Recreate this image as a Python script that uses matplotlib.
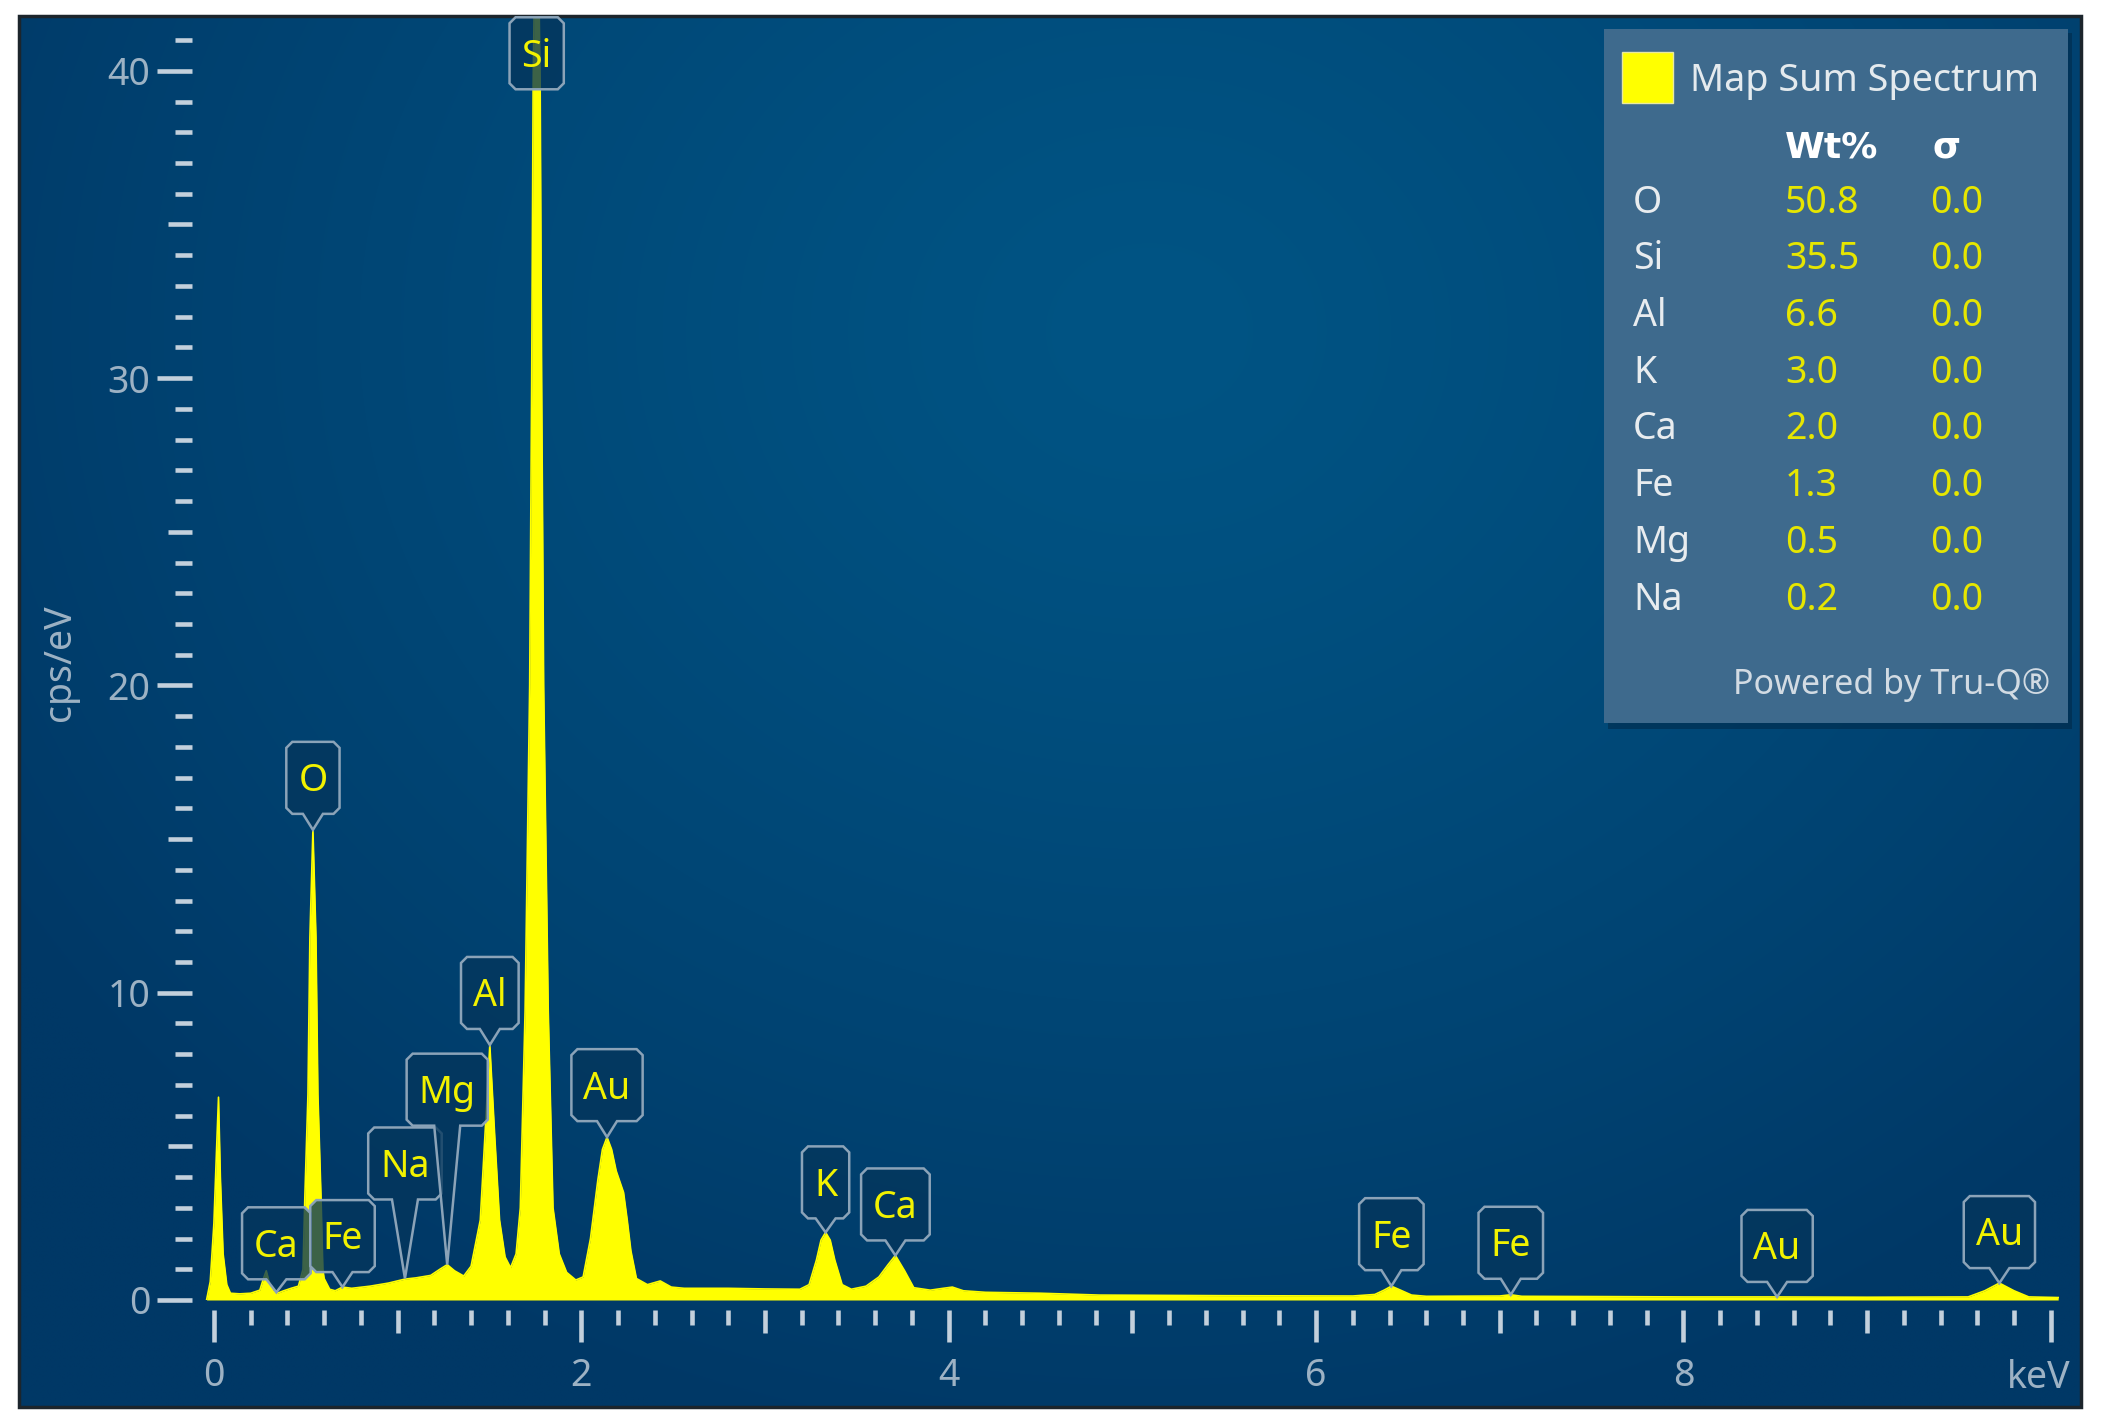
import numpy as np
import matplotlib
matplotlib.use('Agg')
import matplotlib.pyplot as plt
from matplotlib.patches import Polygon, Rectangle
from matplotlib.ticker import FixedLocator

W, H = 2101, 1427

# EDS spectrum (keV, cps/eV)
energy_kev = [-0.04, -0.02, 0.00, 0.015, 0.025, 0.035, 0.05, 0.07, 0.09,
              0.14, 0.20, 0.25, 0.27, 0.285, 0.30, 0.32, 0.345, 0.38, 0.42, 0.46,
              0.485, 0.4955, 0.512, 0.5225, 0.539, 0.5555, 0.566, 0.5825, 0.593, 0.60,
              0.63, 0.66, 0.70, 0.75, 0.85, 0.95, 1.04, 1.10, 1.18, 1.23, 1.27, 1.31, 1.36,
              1.40, 1.45, 1.475, 1.502, 1.529, 1.555, 1.585, 1.615,
              1.645, 1.668, 1.694, 1.719, 1.73, 1.738, 1.748, 1.766, 1.776, 1.784, 1.795,
              1.82, 1.846, 1.88, 1.92, 1.97,
              2.01, 2.05, 2.09, 2.115, 2.14, 2.165, 2.19, 2.23, 2.25, 2.27, 2.30, 2.36,
              2.43, 2.49, 2.56,
              2.8, 3.0, 3.19, 3.24, 3.28, 3.305, 3.33, 3.355, 3.38, 3.42, 3.47, 3.55,
              3.62, 3.67, 3.71, 3.76, 3.81, 3.9, 3.97, 4.02, 4.08, 4.2, 4.5, 4.82, 5.5, 6.2,
              6.32, 6.37, 6.41, 6.46, 6.52, 6.6, 7.0, 7.06, 7.12, 7.6, 8.0, 8.5, 9.0,
              9.55, 9.64, 9.72, 9.8, 9.88, 10.04]
counts_cps = [0.0, 0.6, 2.5, 5.0, 6.6, 4.0, 1.5, 0.5, 0.22,
              0.2, 0.22, 0.32, 0.7, 0.95, 0.6, 0.3, 0.22, 0.3, 0.38, 0.45,
              1.0, 3.45, 6.7, 11.8, 15.3, 11.8, 6.7, 3.45, 1.0, 0.7,
              0.35, 0.3, 0.42, 0.38, 0.45, 0.55, 0.68, 0.72, 0.8, 1.0, 1.15, 0.95, 0.78,
              1.1, 2.6, 5.3, 8.3, 5.3, 2.6, 1.4, 1.05,
              1.5, 3.0, 9.4, 20.0, 30.0, 39.6, 44.0, 44.0, 39.6, 30.0, 20.0,
              9.4, 3.0, 1.5, 0.9, 0.65,
              0.75, 2.0, 3.9, 4.9, 5.3, 4.9, 4.2, 3.5, 2.6, 1.6, 0.7, 0.5,
              0.62, 0.42, 0.38,
              0.38, 0.36, 0.35, 0.5, 1.3, 1.95, 2.2, 1.95, 1.3, 0.5, 0.35, 0.45,
              0.75, 1.15, 1.45, 0.95, 0.4, 0.32, 0.38, 0.42, 0.3, 0.25, 0.22, 0.16, 0.14, 0.13,
              0.18, 0.32, 0.45, 0.32, 0.16, 0.12, 0.13, 0.17, 0.12, 0.11, 0.1, 0.1, 0.09,
              0.1, 0.3, 0.55, 0.3, 0.1, 0.08]

# peak labels: element, energy, height the callout points at
peak_names = ['Ca', 'Fe', 'O', 'Na', 'Mg', 'Al', 'Si', 'Au', 'K', 'Ca', 'Fe', 'Fe', 'Au', 'Au']
peak_kev = [0.34, 0.70, 0.539, 1.04, 1.27, 1.502, 1.757, 2.14, 3.33, 3.71, 6.41, 7.06, 8.51, 9.72]
peak_cps = [0.25, 0.42, 15.3, 0.7, 1.15, 8.3, 39.4, 5.3, 2.2, 1.45, 0.45, 0.17, 0.1, 0.55]

# quantification table
quant_elements = ['O', 'Si', 'Al', 'K', 'Ca', 'Fe', 'Mg', 'Na']
quant_wt = ['50.8', '35.5', '6.6', '3.0', '2.0', '1.3', '0.5', '0.2']
quant_sigma = ['0.0', '0.0', '0.0', '0.0', '0.0', '0.0', '0.0', '0.0']

x_ticks = [0, 2, 4, 6, 8, 10]
x_tick_labels = ['0', '2', '4', '6', '8', '']
y_ticks = [0, 10, 20, 30, 40]

# callout pointer lengths in pixels (layout only)
lift_px = [13, 15, 16, 79, 139, 16, 0, 16, 14, 15, 16, 16, 15, 15]

plt.rcParams['font.family'] = ['Noto Sans', 'DejaVu Sans']

fig = plt.figure(figsize=(W / 100, H / 100), dpi=100)
fig.patch.set_facecolor('white')


def fx(x):
    return x / W


def fy(y):
    return 1 - y / H


# blue gradient background inside the dark frame
bg = fig.add_axes([0, 0, 1, 1], zorder=0)
bg.set_axis_off()
gx, gy = np.meshgrid(np.linspace(19, 2081, 400), np.linspace(16, 1407, 280))
r = np.hypot(gx - 1150, (gy - 330) / 0.85) / 1350
t = np.clip(r, 0, 1)[..., None] ** 1.3
c0 = np.array([0, 84, 132]) / 255
c1 = np.array([0, 56, 102]) / 255
bg.imshow(c0 * (1 - t) + c1 * t, extent=(19, 2081, 1407, 16), aspect='auto',
          interpolation='bilinear')
bg.set_xlim(0, W)
bg.set_ylim(H, 0)
bg.add_patch(Rectangle((19, 16), 2062, 1391, fill=False, ec='#1c252c', lw=2.5))

# spectrum axes
pos = [195 / W, 1 - 1300 / H, (2060 - 195) / W, (1300 - 18) / H]
ax = fig.add_axes(pos, zorder=1)
ax.set_facecolor('none')
ax.set_xlim(-0.103, 10.05)
ax.set_ylim(0, 41.72)
ax.fill_between(energy_kev, counts_cps, 0, color='#ffff00', lw=0)
ax.plot(energy_kev, counts_cps, color='#ffff00', lw=1.2)

tick_c = '#c3d0dc'
lab_c = '#9db2c4'
for s in ax.spines.values():
    s.set_visible(False)
ax.spines['bottom'].set_position(('outward', 7.2))
ax.spines['left'].set_position(('outward', 2.2))
ax.set_xticks(x_ticks)
ax.set_xticklabels(x_tick_labels)
ax.set_yticks(y_ticks)
ax.xaxis.set_minor_locator(FixedLocator([v for v in np.arange(0.2, 10.0, 0.2)
                                         if abs(v - round(v)) > 0.01]))
ax.yaxis.set_minor_locator(FixedLocator([v for v in range(1, 42) if v % 5 != 0]))
tw = 3.3
ax.tick_params(axis='x', which='major', length=23, width=tw, color=tick_c,
               labelsize=27, labelcolor=lab_c, pad=11)
ax.tick_params(axis='x', which='minor', length=10.8, width=tw, color=tick_c)
ax.tick_params(axis='y', which='major', length=25, width=tw, color=tick_c,
               labelsize=27, labelcolor=lab_c, pad=5)
ax.tick_params(axis='y', which='minor', length=12.2, width=tw, color=tick_c)

# medium ticks (odd keV, every 5 cps/eV)
axm = fig.add_axes(pos, zorder=1, frameon=False)
axm.set_xlim(ax.get_xlim())
axm.set_ylim(ax.get_ylim())
axm.spines['bottom'].set_position(('outward', 7.2))
axm.spines['left'].set_position(('outward', 2.2))
axm.set_xticks([1, 3, 5, 7, 9])
axm.set_yticks([5, 15, 25, 35])
axm.tick_params(axis='x', length=16.5, width=tw, color=tick_c, labelbottom=False)
axm.tick_params(axis='y', length=17.3, width=tw, color=tick_c, labelleft=False)

fig.text(fx(2070), fy(1388), 'keV', ha='right', va='baseline', fontsize=27, color=lab_c)
fig.text(fx(60), fy(663), 'cps/eV', rotation=90, ha='center', va='center',
         fontsize=27, color=lab_c)

# peak callouts
rend = fig.canvas.get_renderer()
lab_size = 27
cap = lab_size * 100 / 72 * 0.714
for name, e, c, lift in zip(peak_names, peak_kev, peak_cps, lift_px):
    tx, ty = ax.transData.transform((e, c))
    tip = H - ty
    bot = tip - lift
    top = bot - 72
    txt = fig.text(fx(tx), fy((top + bot) / 2 + cap / 2), name, ha='center', va='baseline',
                   fontsize=lab_size, color='#f2f200', zorder=7)
    w = txt.get_window_extent(rend).width + 24
    L, R = tx - w / 2, tx + w / 2
    rr = 6
    hw = 10 if lift < 30 else 13
    pts = [(tx - hw, bot), (L + rr, bot), (L, bot - rr), (L, top + rr), (L + rr, top),
           (R - rr, top), (R, top + rr), (R, bot - rr), (R - rr, bot), (tx + hw, bot),
           (tx, tip)]
    fig.add_artist(Polygon([(fx(x), fy(y)) for x, y in pts], closed=True,
                           transform=fig.transFigure, fc=(0.02, 0.21, 0.36, 0.78),
                           ec='#8ba3b8', lw=1.8, zorder=6))

# quantification panel
fig.add_artist(Rectangle((fx(1608), fy(729)), (2072 - 1608) / W, (729 - 33) / H,
                         transform=fig.transFigure, fc='#00223d', alpha=0.45, lw=0, zorder=4))
fig.add_artist(Rectangle((fx(1604), fy(723)), (2068 - 1604) / W, (723 - 29) / H,
                         transform=fig.transFigure, fc='#3e6a8d', lw=0, zorder=4))
fig.add_artist(Rectangle((fx(1622), fy(103)), 51 / W, 51 / H, transform=fig.transFigure,
                         fc='#ffff00', ec='#e8e8a0', lw=1, zorder=5))


def row_text(x, yc, s, size, color, weight='normal', ha='left', family=None):
    capp = size * 100 / 72 * 0.73
    kw = {} if family is None else {'family': family}
    fig.text(fx(x), fy(yc + capp / 2), s, ha=ha, va='baseline', fontsize=size,
             color=color, fontweight=weight, zorder=6, **kw)


row_text(1690, 77, 'Map Sum Spectrum', 27.2, '#e4eaee')
row_text(1785, 144, 'Wt%', 26, '#ffffff', 'bold', family='DejaVu Sans')
row_text(1932, 144, 'σ', 26, '#ffffff', 'bold', family='DejaVu Sans')
for i, (el, wt, sg) in enumerate(zip(quant_elements, quant_wt, quant_sigma)):
    yc = 199 + 56.7 * i
    row_text(1633, yc, el, 27, '#e8ecef')
    row_text(1785, yc, wt, 27, '#e6e600')
    row_text(1930, yc, sg, 27, '#e6e600')
row_text(2050, 682, 'Powered by Tru-Q®', 24.5, '#d2dbe3', ha='right')

fig.savefig('out.png', dpi=100)
